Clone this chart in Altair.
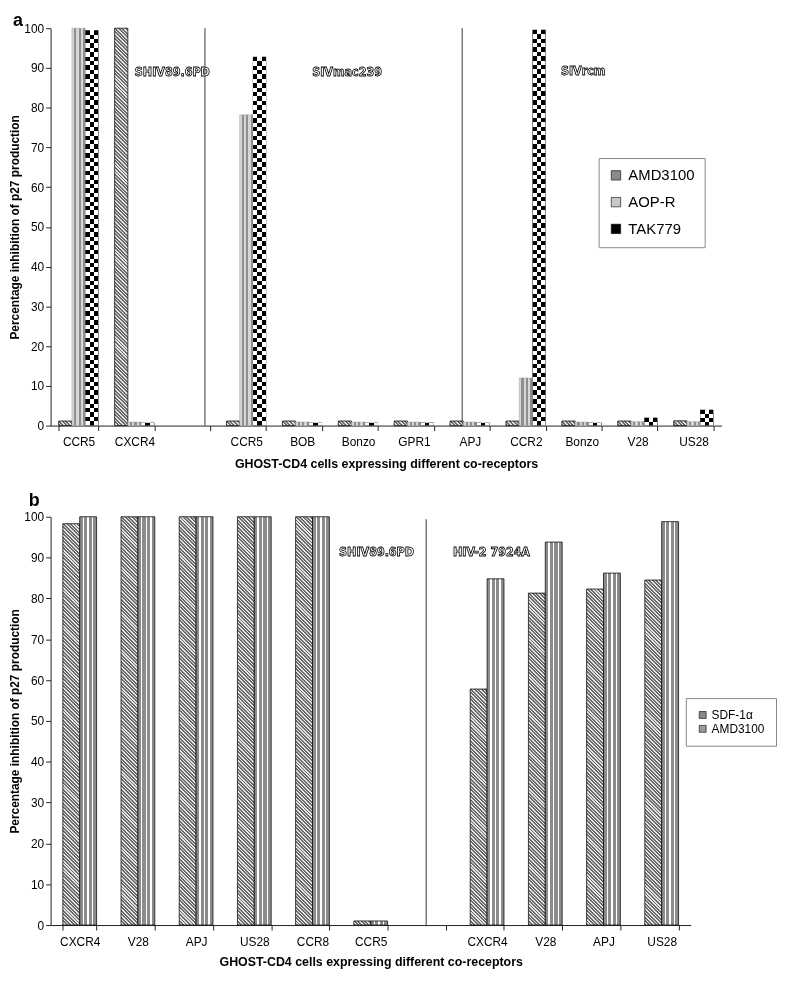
import json
import altair as alt

# ---------------- data ----------------
a_categories = ["CCR5", "CXCR4", "", "CCR5", "BOB", "Bonzo", "GPR1", "APJ", "CCR2", "Bonzo", "V28", "US28"]
a_series = ["AMD3100", "AOP-R", "TAK779"]
a_amd3100 = [1.15, 100.0, None, 1.15, 1.15, 1.15, 1.15, 1.15, 1.15, 1.15, 1.15, 1.2]
a_aop_r = [100.0, 0.9, None, 78.2, 0.9, 0.9, 0.9, 0.9, 12.0, 0.9, 1.0, 1.0]
a_tak779 = [99.5, 0.7, None, 92.8, 0.7, 0.7, 0.7, 0.7, 99.6, 0.7, 2.0, 4.0]
a_virus_labels = ["SHIV89.6PD", "SIVmac239", "SIVrcm"]

b_categories = ["CXCR4", "V28", "APJ", "US28", "CCR8", "CCR5", "", "CXCR4", "V28", "APJ", "US28"]
b_series = ["SDF-1α", "AMD3100"]
b_sdf1a = [98.3, 100.0, 100.0, 100.0, 100.0, 1.0, None, 57.8, 81.3, 82.3, 84.5]
b_amd3100 = [100.0, 100.0, 100.0, 100.0, 100.0, 1.0, None, 84.8, 93.8, 86.2, 98.8]
b_virus_labels = ["SHIV89.6PD", "HIV-2 7924A"]

XTITLE = "GHOST-CD4 cells expressing different co-receptors"
YTITLE = "Percentage inhibition of p27 production"

# ---------------- layout / style ----------------
W_A, H_A = 677, 401
W_B, H_B = 646, 412
PAD_A, PAD_B = 0.29, 0.42
AX_FONT = "Liberation Sans, Arial, sans-serif"
LBL_FONT = "Liberation Sans Narrow, Arial Narrow, DejaVu Sans Condensed, sans-serif"

# annotation placement: (slot, pixel shift from band start, y value)
a_label_pos = [(1, 20.4, 89.0), (4, 30.1, 89.0), (9, -1.0, 89.3)]
a_divider_pos = [(2, 0.867), (7, 0.305)]
a_letter_pos = (0, -46.2, 100.6)
b_label_pos = [(5, -14.9, 91.4), (7, -17.4, 91.4)]
b_divider_pos = [(6, 0.419)]
b_letter_pos = (0, -34.3, 102.55)

bar_w_a = W_A / len(a_categories) * (1 - PAD_A) / len(a_series)
bar_w_b = W_B / len(b_categories) * (1 - PAD_B) / len(b_series)


def hard_stops(segs):
    total = float(sum(l for _, l in segs))
    out, pos = [], 0.0
    for c, l in segs:
        out.append({"offset": round(pos / total, 5), "color": c})
        pos += l
        out.append({"offset": round(pos / total, 5), "color": c})
    return out


def diag_gradient(w, h, period=3.5, dark="#6a6a6a", light="#e4e4e4"):
    span = w + h
    n = max(1, int(round(span / period)))
    segs = []
    for _ in range(n):
        segs += [(dark, 0.55), (light, 0.45)]
    a, b = w / span, -h / span
    d = a * a + b * b
    return {"gradient": "linear", "x1": 0, "y1": 1,
            "x2": round(a / d, 6), "y2": round(1 + b / d, 6),
            "stops": hard_stops(segs)}


def row_gradient(h, cell):
    n = max(1, int(round(h / cell)))
    segs = [("#000000" if i % 2 == 0 else "#ffffff", 1) for i in range(n)]
    return {"gradient": "linear", "x1": 0, "y1": 1, "x2": 0, "y2": 0,
            "stops": hard_stops(segs)}


def vstripes(segs):
    return {"gradient": "linear", "x1": 0, "y1": 0, "x2": 1, "y2": 0,
            "stops": hard_stops(segs)}


COL_GRAD = vstripes([("#ffffff", 1), ("#000000", 1), ("#ffffff", 1)])
AOP_GRAD = vstripes([("#d6d6d6", 1), ("#8e8e8e", 1)] * 3)
BAMD_GRAD = vstripes([("#8c8c8c", 3), ("#ffffff", 1.4)] * 3 + [("#8c8c8c", 3)])

# ---------------- tables ----------------
records_a = []
for i in range(len(a_categories)):
    for s, vals in zip(a_series, [a_amd3100, a_aop_r, a_tak779]):
        v = vals[i]
        if v is None:
            continue
        h = v / 100.0 * H_A
        rec = {"slot": i, "series": s, "value": v}
        if s == "AMD3100":
            rec["fill"] = diag_gradient(bar_w_a, h)
        elif s == "TAK779":
            rec["fill"] = row_gradient(h, bar_w_a / 3.0)
        records_a.append(rec)

records_b = []
for i in range(len(b_categories)):
    for s, vals in zip(b_series, [b_sdf1a, b_amd3100]):
        v = vals[i]
        if v is None:
            continue
        h = v / 100.0 * H_B
        rec = {"slot": i, "series": s, "value": v}
        if s == "SDF-1α":
            rec["fill"] = diag_gradient(bar_w_b, h)
        records_b.append(rec)


def x_axis(labels, label_pad, title_pad):
    return alt.Axis(labelExpr=json.dumps(labels) + "[datum.value]", tickBand="extent",
                    tickSize=5, labelAngle=0, labelFontSize=12, labelPadding=label_pad,
                    titlePadding=title_pad, titleFontSize=12.5, titleFontWeight="bold",
                    domainColor="#222", tickColor="#222", labelColor="#000",
                    titleColor="#000", grid=False)


def y_axis(title_pad):
    return alt.Axis(values=list(range(0, 101, 10)), tickSize=5, labelFontSize=12,
                    labelPadding=2, titleFontSize=12, titleFontWeight="bold",
                    titlePadding=title_pad, grid=False, domainColor="#222",
                    tickColor="#222", labelColor="#000", titleColor="#000")


def make_x(n, labels, pad, label_pad, title_pad, bp=None):
    kw = {}
    if bp is not None:
        kw["bandPosition"] = bp
    return alt.X("slot:O",
                 scale=alt.Scale(domain=list(range(n)), paddingInner=pad, paddingOuter=pad / 2),
                 axis=x_axis(labels, label_pad, title_pad), title=XTITLE, **kw)


def make_y(title_pad):
    return alt.Y("value:Q", scale=alt.Scale(domain=[0, 100], nice=False),
                 axis=y_axis(title_pad), title=YTITLE)


def annotations(xfun, yenc, label_pos, labels, divider_pos, top, letter, letter_pos):
    layers = []
    for slot, bp in divider_pos:
        layers.append(
            alt.Chart(alt.Data(values=[{"slot": slot, "value": top, "value2": 0}]))
            .mark_rule(color="#333", strokeWidth=1)
            .encode(x=xfun(bp), y=yenc, y2="value2:Q"))
    texts = []
    for (slot, shift, yv), t in zip(label_pos, labels):
        texts.append(
            alt.Chart(alt.Data(values=[{"slot": slot, "value": yv, "label": t}]))
            .mark_text(font=LBL_FONT, fontWeight="bold", fontSize=12.5, fill="white",
                       stroke="black", strokeWidth=0.8, align="left", baseline="middle",
                       dx=shift)
            .encode(x=xfun(0), y=yenc, text="label:N"))
    slot, shift, yv = letter_pos
    texts.append(
        alt.Chart(alt.Data(values=[{"slot": slot, "value": yv, "label": letter}]))
        .mark_text(font=AX_FONT, fontWeight="bold", fontSize=18, color="#000",
                   align="left", baseline="alphabetic", dx=shift)
        .encode(x=xfun(0), y=yenc, text="label:N"))
    return layers, texts


# ---------------- panel a ----------------
xa = lambda bp=None: make_x(len(a_categories), a_categories, PAD_A, 6, 10, bp)
ya = make_y(2)
base_a = alt.Chart(alt.Data(values=records_a)).encode(
    x=xa(), y=ya, xOffset=alt.XOffset("series:N", scale=alt.Scale(domain=a_series)))

amd_a = base_a.transform_filter(alt.datum.series == "AMD3100").mark_bar(
    stroke="#111", strokeWidth=0.8).encode(fill=alt.Fill("fill:N", scale=None))
aop_a = base_a.transform_filter(alt.datum.series == "AOP-R").mark_bar(
    fill=AOP_GRAD, stroke="#a0a0a0", strokeWidth=0.5)
tak_rows = base_a.transform_filter(alt.datum.series == "TAK779").mark_bar(
    strokeWidth=0).encode(fill=alt.Fill("fill:N", scale=None))
tak_cols = base_a.transform_filter(alt.datum.series == "TAK779").mark_bar(
    fill=COL_GRAD, blend="difference", strokeWidth=0)
legend_a = base_a.mark_square(opacity=0, size=1).encode(
    color=alt.Color("series:N",
                    scale=alt.Scale(domain=a_series, range=["#8a8a8a", "#c8c8c8", "#000000"]),
                    legend=alt.Legend(title=None, orient="none", legendX=553, legendY=131,
                                      symbolType="square", symbolSize=90, symbolOpacity=1,
                                      symbolStrokeColor="#000", symbolStrokeWidth=0.6,
                                      labelFontSize=15, labelOffset=5, rowPadding=11,
                                      padding=10, strokeColor="#888", fillColor="white",
                                      labelColor="#000")))
rules_a, texts_a = annotations(xa, ya, a_label_pos, a_virus_labels, a_divider_pos, 100,
                               "a", a_letter_pos)

chart_a = alt.layer(*rules_a, amd_a, aop_a, tak_rows, tak_cols, *texts_a, legend_a).properties(
    width=W_A, height=H_A)

# ---------------- panel b ----------------
xb = lambda bp=None: make_x(len(b_categories), b_categories, PAD_B, 7, 8, bp)
yb = make_y(2)
base_b = alt.Chart(alt.Data(values=records_b)).encode(
    x=xb(), y=yb, xOffset=alt.XOffset("series:N", scale=alt.Scale(domain=b_series)))

sdf_b = base_b.transform_filter(alt.datum.series == "SDF-1α").mark_bar(
    stroke="#111", strokeWidth=0.8).encode(fill=alt.Fill("fill:N", scale=None))
amd_b = base_b.transform_filter(alt.datum.series == "AMD3100").mark_bar(
    fill=BAMD_GRAD, stroke="#111", strokeWidth=0.8)
legend_b = base_b.mark_square(opacity=0, size=1).encode(
    color=alt.Color("series:N",
                    scale=alt.Scale(domain=b_series, range=["#8a8a8a", "#9a9a9a"]),
                    legend=alt.Legend(title=None, orient="none", legendX=641, legendY=183,
                                      symbolType="square", symbolSize=49, symbolOpacity=1,
                                      symbolStrokeColor="#000", symbolStrokeWidth=0.6,
                                      labelFontSize=12, labelOffset=3, rowPadding=2,
                                      padding=11, strokeColor="#888", fillColor="white",
                                      labelColor="#000")))
rules_b, texts_b = annotations(xb, yb, b_label_pos, b_virus_labels, b_divider_pos, 99.4,
                               "b", b_letter_pos)

chart_b = alt.layer(*rules_b, sdf_b, amd_b, *texts_b, legend_b).properties(
    width=W_B, height=H_B)

chart = (
    alt.vconcat(chart_a, chart_b, spacing=22)
    .resolve_scale(x="independent", y="independent", xOffset="independent", color="independent")
    .resolve_legend(color="independent")
    .properties(padding={"left": 0, "top": -1, "right": 0, "bottom": 0})
    .configure_view(strokeWidth=0)
    .configure_axis(labelFont=AX_FONT, titleFont=AX_FONT)
    .configure_legend(labelFont=AX_FONT)
    .configure_title(font=AX_FONT)
)

chart.save("out.html", embed_options={"renderer": "svg", "actions": False})
